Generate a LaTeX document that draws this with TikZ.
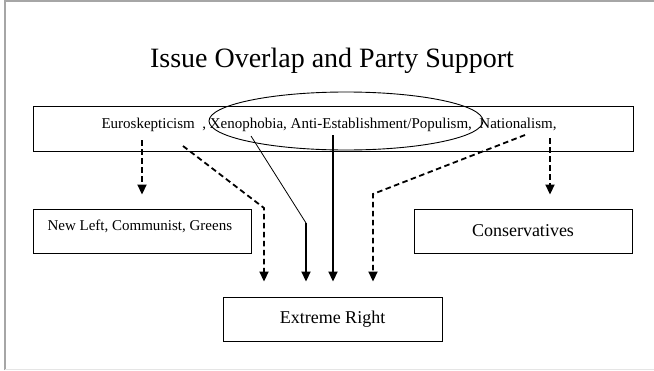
\documentclass[tikz,border=0pt]{standalone}
\usepackage{fontspec}
\setmainfont{Liberation Serif}
\usetikzlibrary{positioning,arrows.meta,shapes.geometric}

\tikzset{
  box/.style={rectangle, draw=black, line width=0.9pt, inner sep=0pt},
  solidarr/.style={line width=1.8pt, -{Triangle[length=10pt,width=9pt]}, shorten >=15pt},
  dasharr/.style={solidarr, dash pattern=on 5.5pt off 3.5pt},
}

\begin{document}
\begin{tikzpicture}[x=1pt, y=-1pt]
        \useasboundingbox (0,0) rectangle (654,370);
        \draw[gray!70, line width=1.5pt] (5,370) -- (5,1) -- (654,1);
        \draw[gray!20] (5,369) -- (654,369);

        \node[font=\fontsize{28}{32}\selectfont, anchor=base] (title) at (332,67) {Issue Overlap and Party Support};

        \node[box, minimum width=600pt, minimum height=45pt] (issues) at (333,128.5) {};
        \node[font=\fontsize{15}{17}\selectfont, anchor=base] (issuetext) at (329,128) {Euroskepticism\ \ , Xenophobia, Anti-Establishment/Populism,\ \ Nationalism,};
        \node[ellipse, draw=black, line width=0.9pt, minimum width=274pt, minimum height=58pt, inner sep=0pt] (overlap) at (346,121) {};

        \node[box, minimum width=218pt, minimum height=44pt] (newleft) at (142,231) {};
        \node[font=\fontsize{15}{17}\selectfont, anchor=base west] (newlefttext) at (44,230) {New Left, Communist, Greens};
        \node[box, minimum width=218pt, minimum height=44pt, font=\fontsize{18}{20}\selectfont] (cons) at (523,231) {Conservatives};
        \node[box, minimum width=219pt, minimum height=44pt, font=\fontsize{18}{20}\selectfont] (xr) at (332.5,319) {Extreme Right};

        % issue ends and bends
        \coordinate (eu) at (142,140);
        \coordinate (nat) at (550,138);
        \coordinate (eu2) at (183,146);
        \coordinate (eubend) at (264,208);
        \coordinate (xeno) at (251,136);
        \coordinate (xenobend) at (306,223);
        \coordinate (anti) at (333,135);
        \coordinate (nat2) at (525,135);
        \coordinate (natbend) at (373,194);

        \draw[dasharr, shorten >=14pt] (eu) -- (eu |- newleft.north);
        \draw[dasharr, shorten >=14pt] (nat) -- (nat |- cons.north);

        \draw[dasharr] (eu2) -- (eubend) -- (eubend |- xr.north);
        \draw[line width=0.8pt] (xeno) -- (xenobend);
        \draw[solidarr] (xenobend) -- (xenobend |- xr.north);
        \draw[solidarr] (anti) -- (anti |- xr.north);
        \draw[dasharr] (nat2) -- (natbend) -- (natbend |- xr.north);
    \end{tikzpicture}
\end{document}
